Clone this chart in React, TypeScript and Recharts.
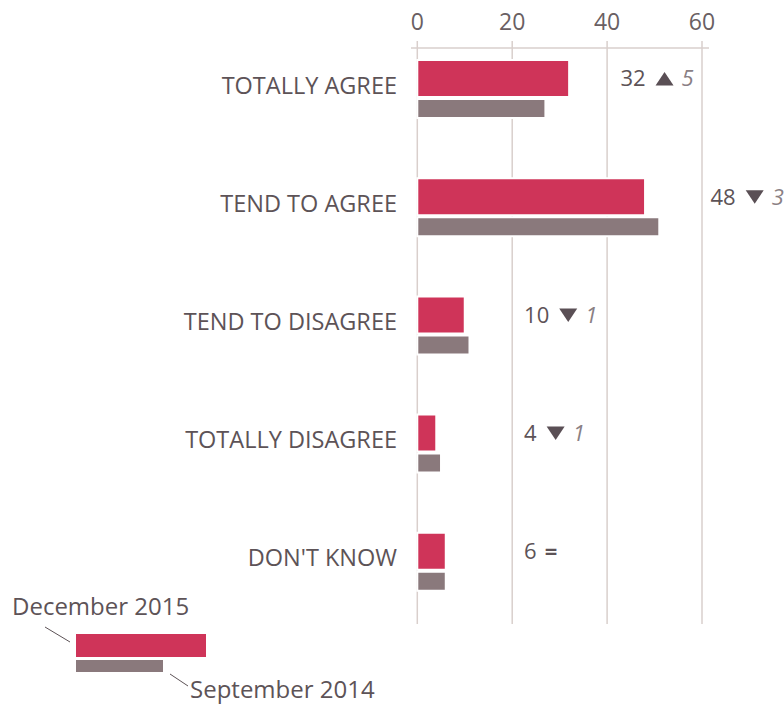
import { BarChart, Bar, XAxis, YAxis, CartesianGrid, LabelList, Legend } from "recharts"

const categories = ["TOTALLY AGREE", "TEND TO AGREE", "TEND TO DISAGREE", "TOTALLY DISAGREE", "DON'T KNOW"]
const dec2015 = [32, 48, 10, 4, 6]
const sep2014 = [27, 51, 11, 5, 6]
const xTicks = [0, 20, 40, 60]

const PINK = "#cf3459"
const GREY = "#8a797c"
const TEXT = "#5d5357"
const GRID = "#d9cfcc"
const FONT = "'Open Sans', 'Noto Sans', sans-serif"

// value labels sit a little past the longer of the two bars, never closer than LABEL_MIN
const LABEL_GAP = 10.8
const LABEL_MIN = 22.5

const rows = categories.map((category, i) => ({
  category,
  dec: dec2015[i],
  sep: sep2014[i],
}))

let measureCtx: CanvasRenderingContext2D | null = null
function textWidth(s: string, font: string) {
  if (!measureCtx) measureCtx = document.createElement("canvas").getContext("2d")
  if (!measureCtx) return s.length * 12
  measureCtx.font = font
  return measureCtx.measureText(s).width
}

function ChangeLabel(props: any) {
  const box = props.viewBox && props.viewBox.width !== undefined ? props.viewBox : props
  const { x, y, width, height } = box
  const row = rows.find(r => r.category === props.value)
  if (!row) return null
  const pxPerUnit = width / row.dec
  const at = Math.max(Math.max(row.dec, row.sep) + LABEL_GAP, LABEL_MIN)
  const lx = x + at * pxPerUnit
  const cy = y + height / 2
  const diff = row.dec - row.sep
  const num = String(row.dec)
  const numW = textWidth(num, `22px ${FONT}`)
  const tx = lx + numW + 10

  return (
    <g>
      <text x={lx} y={cy + 7.8} fill={TEXT} fontSize={22} fontFamily={FONT}>
        {num}
      </text>
      {diff === 0 ? (
        <text x={tx - 2} y={cy + 7.8} fill={TEXT} fontSize={22} fontWeight={700} fontFamily={FONT}>
          =
        </text>
      ) : (
        <>
          <polygon
            points={
              diff > 0
                ? `${tx},${cy + 7} ${tx + 18},${cy + 7} ${tx + 9},${cy - 6.5}`
                : `${tx},${cy - 6.5} ${tx + 18},${cy - 6.5} ${tx + 9},${cy + 7}`
            }
            fill="#5a4f55"
          />
          <text x={tx + 26} y={cy + 7.8} fill="#8a8084" fontSize={22} fontStyle="italic" fontFamily={FONT}>
            {Math.abs(diff)}
          </text>
        </>
      )}
    </g>
  )
}

function CategoryTick({ x, y, payload }: any) {
  return (
    <text x={x} y={y + 4.5} textAnchor="end" fill={TEXT} fontSize={23.5} fontFamily={FONT}>
      {payload.value}
    </text>
  )
}

function SeriesKey() {
  return (
    <svg width={400} height={112} style={{ display: "block", overflow: "visible", fontFamily: FONT }}>
      <text x={12} y={25} fill={TEXT} fontSize={24}>December 2015</text>
      <line x1={45} y1={37} x2={70} y2={52} stroke={TEXT} strokeWidth={1} />
      <rect x={76} y={44} width={130} height={23} fill={PINK} />
      <rect x={76} y={70} width={87} height={12} fill={GREY} />
      <line x1={170} y1={84} x2={188} y2={96} stroke={TEXT} strokeWidth={1} />
      <text x={190} y={108} fill={TEXT} fontSize={24}>September 2014</text>
    </svg>
  )
}

export default function App() {
  return (
    <div style={{ position: "fixed", left: 0, top: 0, width: 784, height: 705, background: "#fff", fontFamily: FONT }}>
      <BarChart
        width={784}
        height={705}
        data={rows}
        layout="vertical"
        margin={{ top: 0, right: 75, left: 0, bottom: 81 }}
        barGap={2}
      >
        <CartesianGrid horizontal={false} syncWithTicks stroke={GRID} strokeWidth={1.5} />
        <XAxis
          type="number"
          orientation="top"
          domain={[0, 60]}
          ticks={xTicks}
          height={48}
          padding={{ left: 6.3, right: 7 }}
          axisLine={{ stroke: GRID, strokeWidth: 1.5 }}
          tickLine={{ stroke: GRID, strokeWidth: 1.5 }}
          tickSize={7}
          tickMargin={11}
          tick={{ fill: "#6a5f63", fontSize: 23, fontFamily: FONT }}
        />
        <YAxis
          type="category"
          dataKey="category"
          width={411}
          padding={{ top: -18, bottom: 3 }}
          axisLine={false}
          tickLine={false}
          tickSize={0}
          tickMargin={14}
          tick={<CategoryTick />}
          interval={0}
        />
        <Legend
          layout="horizontal"
          verticalAlign="middle"
          align="center"
          wrapperStyle={{ left: 0, top: 590, width: 400, height: 112 }}
          content={() => <SeriesKey />}
        />
        <Bar dataKey="dec" name="December 2015" fill={PINK} barSize={37} stroke="#fff" strokeWidth={2} isAnimationActive={false}>
          <LabelList dataKey="category" content={<ChangeLabel />} />
        </Bar>
        <Bar dataKey="sep" name="September 2014" fill={GREY} barSize={19} stroke="#fff" strokeWidth={2} isAnimationActive={false} />
      </BarChart>
    </div>
  )
}
